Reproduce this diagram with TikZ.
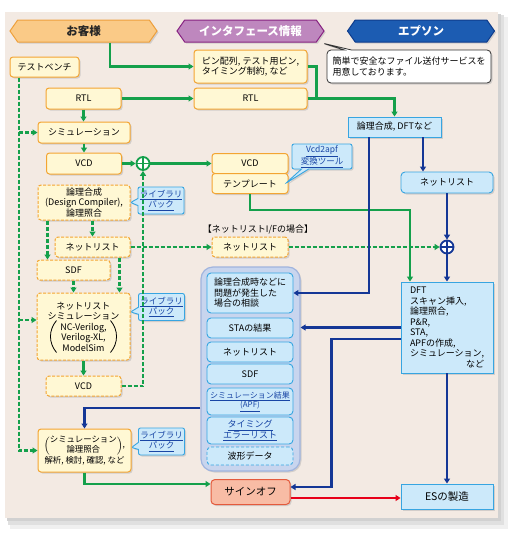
\documentclass[tikz,border=0pt]{standalone}
\usepackage{fontspec}
\setmainfont{Noto Sans CJK JP}
\usetikzlibrary{arrows.meta,shapes.symbols,shapes.callouts,shadows}

\definecolor{bgbeige}{RGB}{243,234,227}
\definecolor{ylfill}{RGB}{255,248,212}
\definecolor{orline}{RGB}{243,165,50}
\definecolor{grnline}{RGB}{20,160,75}
\definecolor{navy}{RGB}{20,55,150}
\definecolor{ltblue}{RGB}{204,233,250}
\definecolor{blline}{RGB}{55,165,225}
\definecolor{libtxt}{RGB}{25,70,165}
\definecolor{panelbg}{RGB}{200,213,238}
\definecolor{panelln}{RGB}{160,180,222}
\definecolor{sofill}{RGB}{248,188,165}
\definecolor{soline}{RGB}{228,90,60}
\definecolor{redarr}{RGB}{232,0,25}
\definecolor{hdor}{RGB}{250,202,135}
\definecolor{hdorln}{RGB}{238,160,60}
\definecolor{hdpu}{RGB}{190,135,190}
\definecolor{hdpuln}{RGB}{135,35,130}
\definecolor{hdbl}{RGB}{28,92,178}
\definecolor{hdblln}{RGB}{15,60,140}

\tikzset{
  shd/.style={drop shadow={shadow xshift=1.5pt, shadow yshift=-1.5pt, fill=black!30}},
  hdr/.style={signal, signal to=east and west, signal pointer angle=110, minimum width=147pt,
    minimum height=22pt, inner sep=0pt, line width=1pt, font=\fontsize{11.5}{12}\selectfont\bfseries, shd},
  custbox/.style={draw=orline, fill=ylfill, line width=1pt, rounded corners=3pt, align=center, inner sep=1pt, shd},
  custdash/.style={custbox, dash pattern=on 3pt off 1.5pt},
  epbox/.style={draw=blline, fill=ltblue, line width=0.9pt, align=center, inner sep=1pt, shd},
  libcall/.style={rectangle callout, draw=blline, fill=ltblue, line width=0.9pt, rounded corners=2pt,
    text=libtxt, align=center, inner sep=1pt, minimum width=46pt, minimum height=27pt,
    font=\fontsize{8.5}{10}\selectfont, callout absolute pointer={#1}, shd},
  pbox/.style={draw=blline, fill=ltblue, line width=0.9pt, rounded corners=4pt, minimum width=86pt, align=center, inner sep=1pt},
  sumnode/.style={circle, draw=#1, line width=1.8pt, fill=white, minimum size=13pt, inner sep=0pt,
    path picture={\draw[#1, line width=1.6pt] (path picture bounding box.north) -- (path picture bounding box.south)
      (path picture bounding box.west) -- (path picture bounding box.east);}},
  arr/.style={-{Triangle[length=5pt,width=6pt]}},
  grn/.style={draw=grnline, line width=2.2pt},
  grnd/.style={grn, dash pattern=on 4pt off 2pt},
  blu/.style={draw=navy, line width=2.2pt},
}

\begin{document}
\begin{tikzpicture}[x=1pt, y=-1pt, font=\fontsize{9}{10.5}\selectfont]
    \useasboundingbox (0,0) rectangle (515,533);
    % sheet
    \fill[black!6] (10,17) rectangle (508,529);
    \fill[black!12] (8,15) rectangle (504,525);
    \fill[black!18] (7,14) rectangle (501,521);
    \fill[bgbeige] (5,12) rectangle (498,518);

    % headers
    \node[hdr, draw=hdorln, fill=hdor, text=black!85] (cust) at (83.5,31) {お客様};
    \node[hdr, draw=hdpuln, fill=hdpu, text=white] (intf) at (250.5,31) {インタフェース情報};
    \node[hdr, draw=hdblln, fill=hdbl, text=white] (epson) at (421,31) {エプソン};
    \coordinate (notetip) at (322,43);
    \node[rectangle callout, draw=black!80, fill=white, line width=0.8pt, rounded corners=4pt, align=left,
        minimum width=164pt, minimum height=33pt, inner sep=2pt, callout absolute pointer={(notetip)}, shd]
        (note) at (409,66.5) {簡単で安全なファイル送付サービスを\\用意しております。};

    % customer side
    \node[custbox, minimum width=69pt, minimum height=20pt] (bench) at (44.5,67) {テストベンチ};
    \node[custbox, minimum width=75pt, minimum height=21pt] (rtlA) at (83.5,98.5) {RTL};
    \node[custbox, minimum width=92pt, minimum height=21pt] (simA) at (84,132.5) {シミュレーション};
    \node[custbox, minimum width=75pt, minimum height=21pt] (vcdA) at (84,163.5) {VCD};
    \node[sumnode=grnline] (sumA) at (143,163.5) {};
    \node[custdash, minimum width=92pt, minimum height=35pt] (synA) at (84,202.5) {論理合成\\(Design Compiler),\\論理照合};
    \node[custdash, minimum width=75pt, minimum height=20pt] (netA) at (92.5,247) {ネットリスト};
    \node[custdash, minimum width=73pt, minimum height=20pt] (sdfA) at (73.5,270) {SDF};
    \node[custdash, minimum width=93pt, minimum height=67pt] (nsimA) at (83.5,326.5)
        {ネットリスト\\シミュレーション\\NC-Verilog,\\Verilog-XL,\\ModelSim};
    \draw[line width=0.8pt] ([shift={(-27,-6)}]nsimA.center) to[bend right=40] ([shift={(-27,26)}]nsimA.center);
    \draw[line width=0.8pt] ([shift={(27,-6)}]nsimA.center) to[bend left=40] ([shift={(27,26)}]nsimA.center);
    \node[custdash, minimum width=75pt, minimum height=20pt] (vcdC) at (83.5,386) {VCD};
    \node[custbox, minimum width=93pt, minimum height=43pt, font=\fontsize{8.4}{10}\selectfont] (chkA) at (84.5,450.5)
        {$\left(\def\arraystretch{0.85}\begin{tabular}{@{}c@{}}シミュレーション\\論理照合\end{tabular}\right)$,\\解析, 検討, 確認, など};
    \node[libcall={(synA.east)}] (lib1) at (161,200.5) {\underline{ライブラリ}\\\underline{パック}};
    \node[libcall={([yshift=14.5pt]nsimA.east)}] (lib2) at (161.5,307) {\underline{ライブラリ}\\\underline{パック}};
    \node[libcall={([yshift=3pt]chkA.east)}] (lib3) at (161.5,441.5) {\underline{ライブラリ}\\\underline{パック}};

    % interface column
    \node[custbox, align=left, minimum width=113pt, minimum height=33pt] (pin) at (250.5,66.5) {ピン配列, テスト用ピン,\\タイミング制約, など};
    \node[custbox, minimum width=113pt, minimum height=21pt] (rtlB) at (250.5,98.5) {RTL};
    \node[custbox, minimum width=76pt, minimum height=20pt] (vcdB) at (250,163.5) {VCD};
    \node[custbox, minimum width=76pt, minimum height=20pt] (tmpl) at (250,183.5) {テンプレート};
    \node[libcall={([xshift=-3pt]tmpl.east)}, minimum width=60pt, minimum height=25pt] (conv) at (322,156.5)
        {\underline{Vcd2apf}\\\underline{変換ツール}};
    \node (ifcase) at (258,229) {【ネットリストI/Fの場合】};
    \node[custdash, minimum width=76pt, minimum height=20pt] (netB) at (250,247) {ネットリスト};

    % epson column
    \node[epbox, minimum width=93pt, minimum height=20pt] (synE) at (394.5,127) {論理合成, DFTなど};
    \node[epbox, rounded corners=4pt, minimum width=92pt, minimum height=21pt] (netE) at (447,182.5) {ネットリスト};
    \node[sumnode=navy] (sumB) at (447,247) {};
    \node[epbox, text width=74pt, align=left, minimum width=92pt, minimum height=91pt] (dftE) at (447,327.5)
        {DFT\\スキャン挿入,\\論理照合,\\P\&R,\\STA,\\APFの作成,\\シミュレーション,\\\mbox{}\hfill など};
    \node[epbox, minimum width=92pt, minimum height=25pt, font=\fontsize{10.5}{12}\selectfont] (esE) at (447,496.5) {ESの製造};

    % shared data panel
    \node[draw=panelln, fill=panelbg, line width=1.2pt, rounded corners=12pt, minimum width=99pt, minimum height=204pt, shd]
        (panel) at (250.5,369) {};
    \node[pbox, align=left, minimum height=40pt] (askP) at (250,293) {論理合成時などに\\問題が発生した\\場合の相談};
    \node[pbox, minimum height=20pt] (staP) at (250,328) {STAの結果};
    \node[pbox, minimum height=20pt] (netP) at (250,352) {ネットリスト};
    \node[pbox, minimum height=20pt] (sdfP) at (250,374) {SDF};
    \node[pbox, minimum height=27pt, text=libtxt, font=\fontsize{8}{9.5}\selectfont] (apfP) at (250,401.5)
        {\underline{シミュレーション結果}\\\underline{(APF)}};
    \node[pbox, minimum height=27pt, text=libtxt] (terrP) at (250,430.5) {\underline{タイミング}\\\underline{エラーリスト}};
    \node[pbox, minimum height=18pt, dash pattern=on 3pt off 2pt] (waveP) at (250,456) {波形データ};

    \node[draw=soline, fill=sofill, line width=1pt, rounded corners=4pt, minimum width=79pt, minimum height=25pt,
        font=\fontsize{10.5}{12}\selectfont, shd] (soff) at (250.5,492) {サインオフ};

    % green flow (customer / interface)
    \draw[grn, arr] ([xshift=26.5pt]cust.south) |- (pin.west);
    \draw[grn, arr] (rtlA) -- (rtlB);
    \draw[grn] (pin.east) -| ([xshift=9pt]rtlB.east);
    \draw[grn, arr] (rtlB.east) -| (synE.north);
    \draw[grn, arr] (rtlA.south) -- (rtlA.south |- simA.north);
    \draw[grn, arr] (simA.south) -- (simA.south |- vcdA.north);
    \draw[grn, arr] (vcdA) -- (sumA);
    \draw[grn, arr] (sumA) -- (vcdB);
    \draw[grn, arr] (tmpl.south) -- ++(0,16) -| ([xshift=-37pt]dftE.north);
    \draw[grn, arr] (nsimA.south) -- (nsimA.south |- vcdC.north);
    \draw[grn, arr] (chkA.south) |- ([yshift=8pt]soff.west);

    % dashed green (netlist route)
    \coordinate (tb) at ([xshift=-25.5pt]bench.south);
    \coordinate (nsimIn) at ([yshift=6.5pt]nsimA.west);
    \coordinate (sdfIn) at ([xshift=10pt]synA.south west);
    \coordinate (netOut) at ([xshift=-11pt]netA.south east);
    \draw[grnd, arr] (tb) |- (chkA.west);
    \draw[grnd, arr] (tb |- simA.west) -- (simA.west);
    \draw[grnd, arr] (tb |- nsimIn) -- (nsimIn);
    \draw[grnd, arr] (synA.south -| netA.north) -- (netA.north);
    \draw[grnd, arr] (sdfIn) -- (sdfIn |- sdfA.north);
    \draw[grnd, arr] (netOut) -- (netOut |- nsimA.north);
    \draw[grnd, arr] (sdfA.south) -- (sdfA.south |- nsimA.north);
    \draw[grnd, arr] (vcdC.east) -| (sumA.south);
    \draw[grnd, arr] (netA) -- (netB);
    \draw[grnd, arr] (netB) -- (sumB);

    % blue flow (epson)
    \coordinate (synOutR) at ([xshift=28.5pt]synE.south);
    \coordinate (soOut) at ([yshift=-6pt]soff.east);
    \draw[blu, arr] (synOutR) -- (synOutR |- netE.north);
    \draw[blu, arr] ([xshift=-25.5pt]synE.south) |- (askP.east);
    \draw[blu, arr] (netE) -- (sumB);
    \draw[blu, arr] (sumB) -- (dftE);
    \draw[blu, arr] (dftE.west) -- (dftE.west -| panel.east);
    \draw[blu, arr] ([yshift=-11.5pt]dftE.west) -- ++(-69,0) |- ([yshift=5pt]soff.east);
    \draw[blu, arr] (dftE) -- (esE);
    \draw[blu, arr] ([yshift=-39pt]panel.west) -| (chkA.north);
    \draw[draw=redarr, line width=2.2pt, arr] (soOut) -- (soOut -| esE.west);
\end{tikzpicture}
\end{document}
